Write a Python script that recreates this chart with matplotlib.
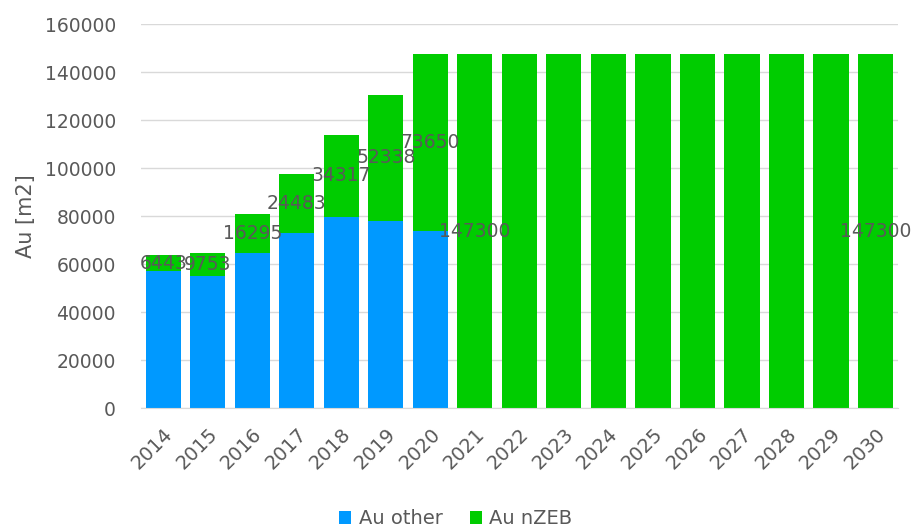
import matplotlib.pyplot as plt
import numpy as np

years = [str(y) for y in range(2014, 2031)]
au_other = [57200, 54900, 64500, 73000, 79600, 78050, 73650] + [0] * 10
au_nzeb = [6443, 9753, 16295, 24483, 34317, 52338, 73650] + [147300] * 10
# only these bars carry a value label
labelled = [True] * 8 + [False] * 8 + [True]

blue = '#0099ff'
green = '#00cc00'
grey = '#595959'

fig = plt.figure(figsize=[9.12, 5.29], dpi=100)
ax = fig.add_axes([0.1546, 0.2287, 0.8298, 0.7259])

x = np.arange(len(years))
ax.bar(x, au_other, width=0.79, color=blue, label='Au other', zorder=2)
ax.bar(x, au_nzeb, width=0.79, bottom=au_other, color=green, label='Au nZEB', zorder=2)

for i in range(len(years)):
    if labelled[i]:
        ax.text(x[i], au_other[i] + au_nzeb[i] / 2, str(au_nzeb[i]),
                ha='center', va='center', fontsize=13.5, color=grey, zorder=3)

ax.set_xlim(-0.5, len(years) - 0.5)
ax.set_ylim(0, 160000)
ax.set_yticks(np.arange(0, 160001, 20000))
ax.set_xticks(x)
ax.set_xticklabels(years, rotation=45, ha='right', rotation_mode='anchor')
ax.tick_params(axis='both', length=0, labelsize=13.5, labelcolor=grey)
ax.tick_params(axis='x', labelsize=14, pad=12)
ax.tick_params(axis='y', pad=18)
ax.grid(axis='y', color='#d9d9d9', linewidth=1, zorder=0)
for s in ['top', 'right', 'left']:
    ax.spines[s].set_visible(False)
ax.spines['bottom'].set_color('#d9d9d9')

ax.set_ylabel('Au [m2]', fontsize=15, color=grey, labelpad=6)

fig.legend(loc='lower center', bbox_to_anchor=(0.5, -0.032), ncol=2, frameon=False,
           fontsize=14, labelcolor=grey, handlelength=0.6, handleheight=0.6,
           handletextpad=0.4, columnspacing=1.4)

fig.savefig('out.png', dpi=100)
